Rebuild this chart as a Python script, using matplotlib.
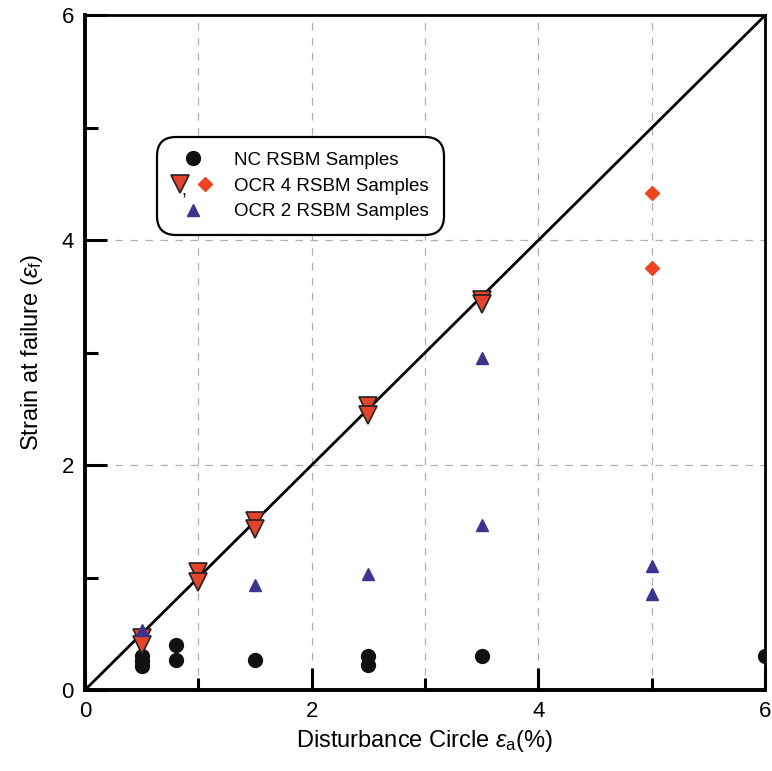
import matplotlib
matplotlib.use("Agg")
import matplotlib.pyplot as plt
from matplotlib.legend_handler import HandlerTuple
from matplotlib.ticker import MultipleLocator

plt.rcParams["font.family"] = ["Liberation Sans", "DejaVu Sans"]
plt.rcParams["mathtext.fontset"] = "custom"
plt.rcParams["mathtext.rm"] = "Liberation Sans"
plt.rcParams["mathtext.it"] = "Liberation Sans:italic"

# NC RSBM samples
nc_x = [0.5, 0.5, 0.5, 0.8, 0.8, 1.5, 2.5, 2.5, 3.5, 6.0]
nc_y = [0.21, 0.26, 0.30, 0.40, 0.27, 0.27, 0.30, 0.22, 0.30, 0.30]

# OCR 4 RSBM samples (triangles)
ocr4_x = [0.5, 0.5, 1.0, 1.0, 1.5, 1.5, 2.5, 2.5, 3.5, 3.5]
ocr4_y = [0.46, 0.40, 1.05, 0.96, 1.50, 1.43, 2.53, 2.45, 3.47, 3.43]

# OCR 4 RSBM samples (diamonds)
ocr4d_x = [5.0, 5.0]
ocr4d_y = [4.42, 3.75]

# OCR 2 RSBM samples
ocr2_x = [0.5, 1.5, 2.5, 3.5, 3.5, 5.0, 5.0]
ocr2_y = [0.53, 0.93, 1.03, 2.95, 1.47, 1.10, 0.85]

line_x = [0, 6]
line_y = [0, 6]

fig = plt.figure(figsize=(7.72, 7.71), dpi=100)
ax = fig.add_axes([0.110, 0.105, 0.881, 0.875])

for gx in [1, 2, 3, 4, 5]:
    ax.axvline(gx, color="#b8aaaa", ls=(0, (6, 6)), lw=0.9, zorder=1)
for gy in [2, 4]:
    ax.axhline(gy, color="#b0b0b0", ls=(0, (6, 6)), lw=0.9, zorder=1)

ax.plot(line_x, line_y, color="black", lw=2, zorder=2)

h_nc, = ax.plot(nc_x, nc_y, "o", color="#111111", ms=10, ls="none", zorder=3)
h_t, = ax.plot(ocr4_x, ocr4_y, "v", mfc="#e8432a", mec="#222222", mew=1.2,
               ms=13, ls="none", zorder=4)
h_d, = ax.plot(ocr4d_x, ocr4d_y, "D", color="#f0431f", ms=7, ls="none", zorder=3)
h_2, = ax.plot(ocr2_x, ocr2_y, "^", color="#3b3591", ms=8, ls="none", zorder=5)

ax.set_xlim(0, 6)
ax.set_ylim(0, 6)
ax.xaxis.set_major_locator(MultipleLocator(2))
ax.xaxis.set_minor_locator(MultipleLocator(1))
ax.yaxis.set_major_locator(MultipleLocator(2))
ax.yaxis.set_minor_locator(MultipleLocator(1))
ax.tick_params(which="major", direction="in", length=16, width=2.2,
               labelsize=16, pad=8)
ax.tick_params(which="minor", direction="in", length=9, width=2.2)
for s in ["left", "bottom"]:
    ax.spines[s].set_linewidth(2.8)
for s in ["top", "right"]:
    ax.spines[s].set_linewidth(2.0)

ax.set_xlabel(r"Disturbance Circle $\varepsilon_{\rm a}$(%)", fontsize=17, labelpad=4)
ax.set_ylabel(r"Strain at failure ($\varepsilon_{\rm f}$)", fontsize=17, labelpad=12)

leg = ax.legend([h_nc, (h_t, h_d), h_2],
                ["NC RSBM Samples", "OCR 4 RSBM Samples", "OCR 2 RSBM Samples"],
                handler_map={tuple: HandlerTuple(ndivide=None, pad=0.5)},
                loc="upper left", bbox_to_anchor=(0.106, 0.820),
                fontsize=13.5, frameon=True, fancybox=True, framealpha=1,
                edgecolor="black", handlelength=2.2, labelspacing=0.45,
                borderpad=0.8, handletextpad=1.1, borderaxespad=0)
leg.get_frame().set_linewidth(1.6)
leg.get_frame().set_boxstyle("round", pad=0, rounding_size=1.0)

# the small comma between the two OCR 4 symbols in the legend
ax.text(0.146, 0.740, ",", transform=ax.transAxes, fontsize=13,
        ha="center", va="center", zorder=10)

fig.savefig("out.png", dpi=100, facecolor="white")
